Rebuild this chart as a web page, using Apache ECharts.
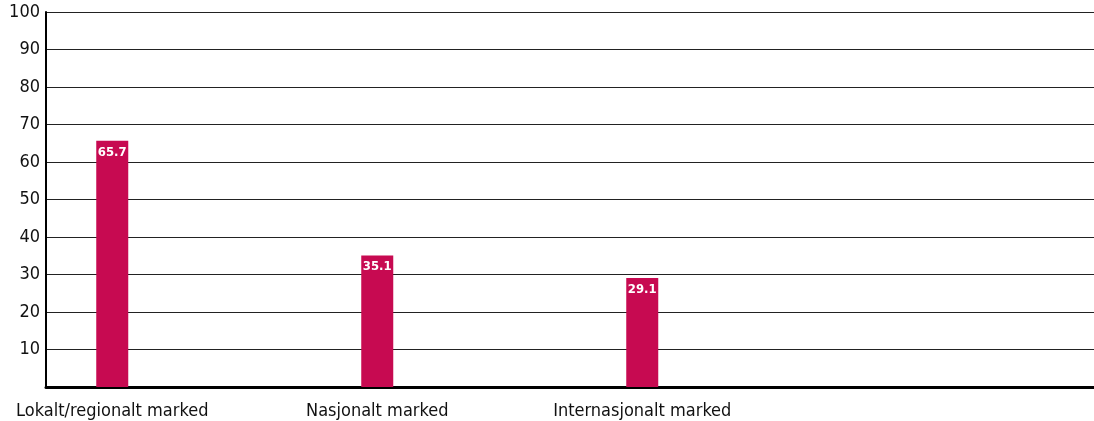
<!DOCTYPE html>
<html>
<head>
<meta charset="utf-8">
<style>
  html, body { margin: 0; padding: 0; background: #fff; overflow: hidden; width: 1094px; height: 421px; }
  /* The plot runs on a little past the right edge of the page */
  #chart { width: 1106px; height: 421px; }
</style>
<script src="https://cdn.jsdelivr.net/npm/echarts@6/dist/echarts.min.js"></script>
</head>
<body>
<div id="chart"></div>
<script>
// Market shares by market type (percent)
const categories = ['Lokalt/regionalt marked', 'Nasjonalt marked', 'Internasjonalt marked'];
const values = [65.7, 35.1, 29.1];
const yTicks = [0, 10, 20, 30, 40, 50, 60, 70, 80, 90, 100];

const FONT = '"Liberation Sans Narrow", "DejaVu Sans Condensed", "Liberation Sans", sans-serif';

// Each market gets its own slot followed by an empty gap slot; two extra
// empty slots keep the right-hand part of the plot open.
const axisData = [];
const seriesData = [];
categories.forEach((c, i) => {
  axisData.push(c, '');
  seriesData.push(values[i], '-');
});
axisData.push('', '');
seriesData.push('-', '-');

const chart = echarts.init(document.getElementById('chart'), null, { renderer: 'canvas' });
chart.setOption({
  animation: false,
  grid: { left: 46, right: 0, top: 12, bottom: 34, containLabel: false },
  xAxis: {
    type: 'category',
    data: axisData,
    boundaryGap: true,
    axisLine: { show: true, lineStyle: { color: '#000', width: 3 } },
    axisTick: { show: false },
    axisLabel: {
      interval: 0,
      margin: 15,
      color: '#111',
      fontFamily: FONT,
      fontSize: 18
    },
    splitLine: { show: false }
  },
  yAxis: {
    type: 'value',
    min: yTicks[0],
    max: yTicks[yTicks.length - 1],
    interval: yTicks[1] - yTicks[0],
    axisLine: { show: true, lineStyle: { color: '#000', width: 2 } },
    axisTick: { show: false },
    axisLabel: {
      margin: 6,
      color: '#111',
      fontFamily: FONT,
      fontSize: 18,
      formatter: v => (v === 0 ? '' : String(v))
    },
    splitLine: { show: true, lineStyle: { color: '#222', width: 1 } }
  },
  series: [{
    type: 'bar',
    data: seriesData,
    barWidth: 32,
    itemStyle: { color: '#C70A51' },
    label: {
      show: true,
      position: 'insideTop',
      distance: 5,
      color: '#fff',
      fontFamily: FONT,
      fontWeight: 'bold',
      fontSize: 13,
      formatter: p => Number(p.value).toFixed(1)
    }
  }]
});
</script>
</body>
</html>
